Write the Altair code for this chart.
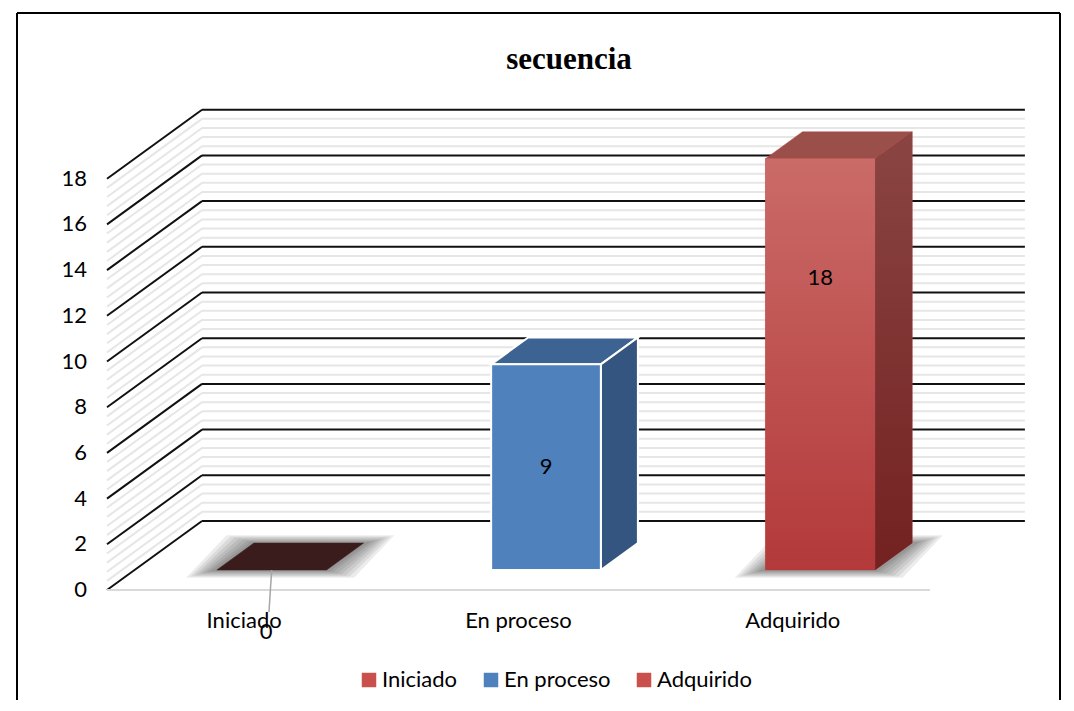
import altair as alt
import pandas as pd
import numpy as np

# ---------------- data ----------------
categories = ["Iniciado", "En proceso", "Adquirido"]
values = [0, 9, 18]
y_ticks = [0, 2, 4, 6, 8, 10, 12, 14, 16, 18]
title_text = "secuencia"

# ---------------- styles ----------------
front_fill = ["#3b1c1c", "#4f81bd", "#c0504d"]
top_fill = ["#3b1c1c", "#3c6392", "#9a4f4b"]
side_fill = ["#3b1c1c", "#34557f", "#7c2f2c"]
edge_stroke = ["#3b1c1c", "white", "#b94a47"]
edge_width = [0.5, 2, 0.5]
legend_colors = ["#c9504d", "#4f81bd", "#c9504d"]
has_shadow = [True, False, True]
label_frac = [0.0, 0.5, 0.71]   # where the value label sits on the bar face
FONT = "Lato"

# ---------------- layout (pixels) ----------------
PX_CAT = 274.3      # pixels per category slot
PX_VAL = 22.85      # pixels per value unit
X_ORIGIN = 107      # pixel of the front-left floor corner
Y_ORIGIN = 590
VIEW_L, VIEW_T, VIEW_W, VIEW_H = 17, 13, 1043, 687
DX = 95 / PX_CAT    # full depth offset in category units
DY = 69 / PX_VAL    # full depth offset in value units
D1, D2 = 0.29, 0.68
HALF_W = 0.2

X0 = (VIEW_L - X_ORIGIN) / PX_CAT
X1 = X0 + VIEW_W / PX_CAT
Y1 = (Y_ORIGIN - VIEW_T) / PX_VAL
Y0 = Y1 - VIEW_H / PX_VAL

xs = alt.Scale(domain=[X0, X1], nice=False, zero=False)
ys = alt.Scale(domain=[Y0, Y1], nice=False, zero=False)
ncat = len(categories)


def X(f="x"):
    return alt.X(f"{f}:Q", scale=xs, axis=None)


def Y(f="y"):
    return alt.Y(f"{f}:Q", scale=ys, axis=None)


# ---------------- walls ----------------
top_v = max(y_ticks)
minor_vals = [round(v, 2) for v in np.arange(0, top_v + 0.001, 0.4)
              if abs(v / 2 - round(v / 2)) > 1e-6]


def wall_rows(vals):
    rows = []
    for v in vals:
        rows.append(dict(x=DX, x2=ncat + DX, y=v + DY, y2=v + DY))
        rows.append(dict(x=0, x2=DX, y=v, y2=v + DY))
    return pd.DataFrame(rows)


minor = alt.Chart(wall_rows(minor_vals)).mark_rule(
    color="#e6e6e6", strokeWidth=2
).encode(x=X(), x2="x2", y=Y(), y2="y2")

major = alt.Chart(wall_rows(y_ticks)).mark_rule(
    color="#111111", strokeWidth=2
).encode(x=X(), x2="x2", y=Y(), y2="y2")

floor = alt.Chart(pd.DataFrame([dict(x=0, x2=ncat, y=0)])).mark_rule(
    color="#d9d9d9", strokeWidth=2
).encode(x=X(), x2="x2", y=Y())

# ---------------- bars ----------------
ddx = DX * (D2 - D1)
ddy = DY * (D2 - D1)
face_rows, front_rows, shadow_rows, label_rows, leader_rows = [], [], [], [], []
shadow_steps = [(0.10, 0.34), (0.085, 0.29), (0.07, 0.24), (0.055, 0.19),
                (0.04, 0.14), (0.025, 0.09), (0.012, 0.05)]
for i, (c, v) in enumerate(zip(categories, values)):
    cx = i + 0.5 + DX * D1
    xl, xr = cx - HALF_W, cx + HALF_W
    b = DY * D1
    t = b + v
    f = top_fill[i]
    s = edge_stroke[i]
    w = edge_width[i]
    name = f"{c}-top"
    for (px, py, py2) in [(xl, t, t), (xl + ddx, t, t + ddy),
                          (xr, t, t + ddy), (xr + ddx, t + ddy, t + ddy)]:
        face_rows.append(dict(face=name, x=px, y=py, y2=py2, fill=f, stroke=s, sw=w, cat=c))
    if v > 0:
        name = f"{c}-side"
        for (px, py, py2) in [(xr, b, t), (xr + ddx, b + ddy, t + ddy)]:
            face_rows.append(dict(face=name, x=px, y=py, y2=py2, fill=side_fill[i],
                                  stroke=s, sw=w, cat=c))
        front_rows.append(dict(x=xl, x2=xr, y=b, y2=t, fill=front_fill[i],
                               stroke=s, sw=w, cat=c))
    if has_shadow[i]:
        for k, (ex, ey) in enumerate(shadow_steps):
            name = f"{c}-shadow{k}"
            sxl, sxr = xl - ex - 0.012, xr + ex
            sb = b - ey
            sdy = ddy + 2 * ey
            sdx = ddx + 0.012
            for (px, py, py2) in [(sxl, sb, sb), (sxl + sdx, sb, sb + sdy),
                                  (sxr, sb, sb + sdy), (sxr + sdx, sb + sdy, sb + sdy)]:
                shadow_rows.append(dict(face=name, x=px, y=py, y2=py2))
    if v > 0:
        label_rows.append(dict(x=cx, y=b + v * label_frac[i], text=str(v)))
    else:
        leader_rows.append(dict(x=cx, x2=cx - 0.01, y=b, y2=b - 1.84))
        label_rows.append(dict(x=cx - 0.02, y=b - 2.71, text=str(v)))

faces = pd.DataFrame(face_rows)
fronts = pd.DataFrame(front_rows)
shadows = pd.DataFrame(shadow_rows)

shadow_layer = alt.Chart(shadows).mark_area(
    orient="vertical", color="#303030", opacity=0.09
).encode(x=X(), y=Y(), y2="y2", detail="face:N")

face_layer = alt.Chart(faces).mark_area(orient="vertical").encode(
    x=X(), y=Y(), y2="y2", detail="face:N",
    color=alt.Color("fill:N", scale=None),
    stroke=alt.Stroke("stroke:N", scale=None),
    strokeWidth=alt.StrokeWidth("sw:Q", scale=None),
)

front_layer = alt.Chart(fronts).mark_rect().encode(
    x=X(), x2="x2", y=Y(), y2="y2",
    color=alt.Color("fill:N", scale=None),
    stroke=alt.Stroke("stroke:N", scale=None),
    strokeWidth=alt.StrokeWidth("sw:Q", scale=None),
)

red = categories[2]
front_grad = alt.Chart(fronts[fronts["cat"] == red]).mark_rect(
    color=alt.Gradient(gradient="linear",
                       stops=[alt.GradientStop(color="#ca6b68", offset=0),
                              alt.GradientStop(color="#b3393a", offset=1)],
                       x1=0, x2=0, y1=0, y2=1)
).encode(x=X(), x2="x2", y=Y(), y2="y2")

side_red = faces[faces["face"] == f"{red}-side"]
side_grad = alt.Chart(side_red).mark_area(
    orient="vertical",
    color=alt.Gradient(gradient="linear",
                       stops=[alt.GradientStop(color="#8a4542", offset=0),
                              alt.GradientStop(color="#732121", offset=1)],
                       x1=0, x2=0, y1=0, y2=1)
).encode(x=X(), y=Y(), y2="y2", detail="face:N")

# ---------------- texts ----------------
tick_df = pd.DataFrame(dict(x=[0] * len(y_ticks), y=y_ticks, text=[str(v) for v in y_ticks]))
tick_labels = alt.Chart(tick_df).mark_text(
    align="right", baseline="middle", dx=-20, font=FONT, fontSize=22, color="#000000"
).encode(x=X(), y=Y(), text="text:N")

cat_df = pd.DataFrame(dict(x=[i + 0.5 for i in range(ncat)], y=[0] * ncat, text=categories))
cat_labels = alt.Chart(cat_df).mark_text(
    align="center", baseline="middle", dy=31, font=FONT, fontSize=22, color="#000000"
).encode(x=X(), y=Y(), text="text:N")

leader = alt.Chart(pd.DataFrame(leader_rows)).mark_rule(
    color="#a6a6a6", strokeWidth=1.5
).encode(x=X(), x2="x2", y=Y(), y2="y2")

value_labels = alt.Chart(pd.DataFrame(label_rows)).mark_text(
    align="center", baseline="middle", font=FONT, fontSize=22, color="#000000"
).encode(x=X(), y=Y(), text="text:N")

title = alt.Chart(pd.DataFrame([dict(text=title_text)])).mark_text(
    align="center", baseline="middle", font="Liberation Serif", fontSize=31,
    fontWeight="bold", color="#000000"
).encode(x=alt.value(552), y=alt.value(47), text="text:N")

# ---------------- legend ----------------
leg_df = pd.DataFrame(dict(x=[i + 0.5 for i in range(ncat)], y=[0] * ncat, cat=categories))
legend_layer = alt.Chart(leg_df).mark_square(opacity=0, size=10).encode(
    x=X(), y=Y(),
    color=alt.Color(
        "cat:N",
        scale=alt.Scale(domain=categories, range=legend_colors),
        legend=alt.Legend(
            title=None, orient="none", legendX=341, legendY=656,
            direction="horizontal", symbolType="square", symbolSize=210,
            symbolOpacity=1, symbolStrokeWidth=0, labelFont=FONT,
            labelFontSize=22, labelColor="#000000", labelOffset=2,
            columnPadding=22, padding=0,
        ),
    ),
)

# ---------------- frame ----------------
one = pd.DataFrame([dict(k=1)])
frame_left = alt.Chart(one).mark_rule(color="black", strokeWidth=2).encode(
    x=alt.value(0), y=alt.value(0), y2=alt.value(VIEW_H + 20))
frame_top = alt.Chart(one).mark_rule(color="black", strokeWidth=2).encode(
    x=alt.value(0), x2=alt.value(VIEW_W), y=alt.value(0))
frame_right = alt.Chart(one).mark_rule(color="black", strokeWidth=2).encode(
    x=alt.value(VIEW_W), y=alt.value(0), y2=alt.value(VIEW_H + 20))

chart = alt.layer(
    minor, major, floor, shadow_layer, face_layer, front_layer, front_grad, side_grad,
    leader, tick_labels, cat_labels, value_labels, title, legend_layer,
    frame_left, frame_top, frame_right,
).properties(
    width=VIEW_W, height=VIEW_H,
    padding={"left": VIEW_L, "top": VIEW_T, "right": 1074 - VIEW_L - VIEW_W, "bottom": 0},
    autosize=alt.AutoSizeParams(type="none"),
    background="white",
).configure_view(stroke=None)

chart.save("out.html", embed_options={"renderer": "svg", "actions": False})
